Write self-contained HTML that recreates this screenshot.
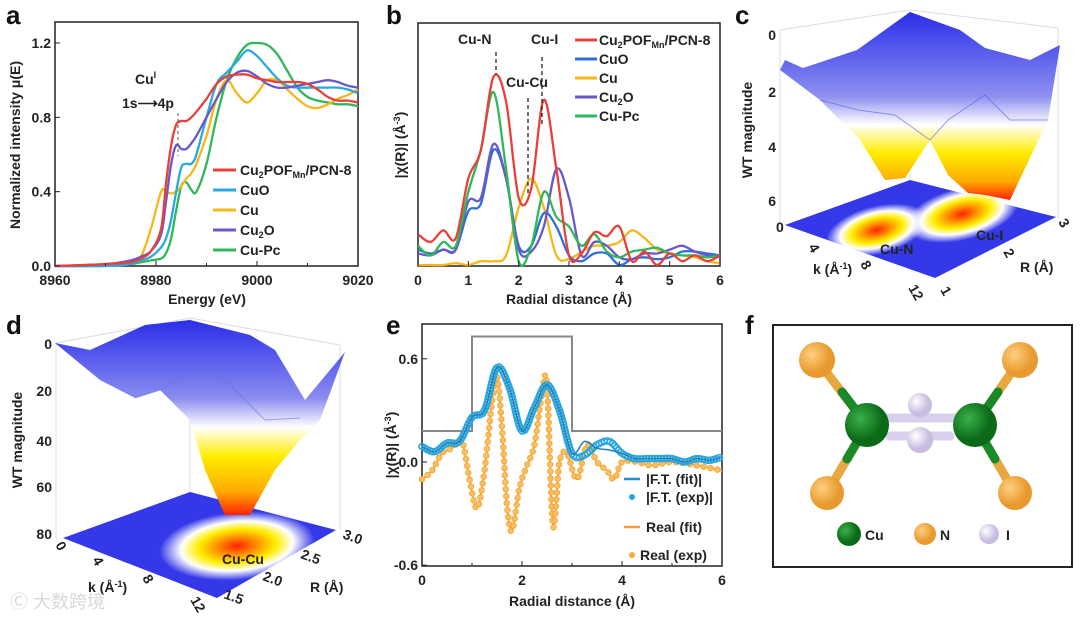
<!DOCTYPE html>
<html><head><meta charset="utf-8"><style>
body{margin:0;background:#fff;}
svg{display:block;font-family:"Liberation Sans",Arial,sans-serif;}
.t{font-weight:bold;font-size:14px;fill:#222;}
.L{font-weight:bold;font-size:26px;fill:#111;}
</style></head><body>
<svg id="s" width="1080" height="618" viewBox="0 0 1080 618">
<defs>
<linearGradient id="surfC" x1="0" y1="0" x2="0" y2="1"><stop offset="0" stop-color="#2a2ee8"/><stop offset="0.45" stop-color="#8e90f0"/><stop offset="0.6" stop-color="#ffffff"/><stop offset="0.75" stop-color="#ffee00"/><stop offset="0.9" stop-color="#ffaa00"/><stop offset="1" stop-color="#ff2200"/></linearGradient>
<linearGradient id="surfD" x1="0" y1="0" x2="0" y2="1"><stop offset="0" stop-color="#2a2ee8"/><stop offset="0.4" stop-color="#8a8cf0"/><stop offset="0.55" stop-color="#ffffff"/><stop offset="0.7" stop-color="#ffee00"/><stop offset="0.88" stop-color="#ffaa00"/><stop offset="1" stop-color="#ff2200"/></linearGradient>
<radialGradient id="hot"><stop offset="0" stop-color="#ff2000"/><stop offset="0.3" stop-color="#ffa000"/><stop offset="0.5" stop-color="#ffee00"/><stop offset="0.72" stop-color="#ffffff"/><stop offset="1" stop-color="#ffffff" stop-opacity="0"/></radialGradient>
<radialGradient id="gCu" cx="0.35" cy="0.35"><stop offset="0" stop-color="#3bb04a"/><stop offset="1" stop-color="#0a6a18"/></radialGradient>
<radialGradient id="gN" cx="0.35" cy="0.35"><stop offset="0" stop-color="#ffd080"/><stop offset="1" stop-color="#e89a30"/></radialGradient>
<radialGradient id="gI" cx="0.35" cy="0.35"><stop offset="0" stop-color="#ffffff"/><stop offset="1" stop-color="#c8bce0"/></radialGradient>
</defs>

<text class="L" x="6" y="24">a</text>
<text class="L" x="386" y="24">b</text>
<text class="L" x="735" y="24">c</text>
<text class="L" x="6" y="334">d</text>
<text class="L" x="386" y="334">e</text>
<text class="L" x="745" y="334">f</text>

<!-- PANEL A -->
<g id="pa">
<rect x="55" y="22" width="303" height="244" fill="none" stroke="#222" stroke-width="1.5"/>
<g id="pa-lines"></g>
<text class="t" x="20" y="145" transform="rotate(-90 20 145)" text-anchor="middle">Normalized intensity μ(E)</text>
<text class="t" x="207" y="304" text-anchor="middle">Energy (eV)</text>
<text class="t" x="135" y="84">Cu<tspan font-size="9" dy="-6">I</tspan></text>
<text class="t" x="122" y="108">1s⟶4p</text>
<line x1="178" y1="113" x2="178" y2="156" stroke="#555" stroke-dasharray="3,3"/>
<g id="pa-leg"></g>
</g>

<!-- PANEL B -->
<g>
<rect x="418" y="23" width="302" height="243" fill="none" stroke="#222" stroke-width="1.5"/>
<g id="pb-lines"></g>
<text class="t" x="405" y="145" transform="rotate(-90 405 145)" text-anchor="middle">|χ(R)| (Å<tspan font-size="9" dy="-5">-3</tspan><tspan dy="5">)</tspan></text>
<text class="t" x="569" y="304" text-anchor="middle">Radial distance (Å)</text>
<text class="t" x="458" y="44">Cu-N</text>
<text class="t" x="531" y="44">Cu-I</text>
<text class="t" x="506" y="87">Cu-Cu</text>
<line x1="496" y1="52" x2="496" y2="74" stroke="#222" stroke-width="1.3" stroke-dasharray="4,3"/>
<line x1="542" y1="57" x2="542" y2="127" stroke="#222" stroke-width="1.3" stroke-dasharray="4,3"/>
<line x1="528" y1="98" x2="528" y2="196" stroke="#222" stroke-width="1.3" stroke-dasharray="4,3"/>
<g id="pb-leg"></g>
</g>

<!-- PANEL C -->
<g>
<g stroke="#ddd" stroke-width="1" fill="none">
<line x1="780" y1="30" x2="780" y2="225"/><line x1="780" y1="30" x2="910" y2="10"/><line x1="910" y1="10" x2="1058" y2="28"/><line x1="1058" y1="28" x2="1058" y2="218"/><line x1="910" y1="10" x2="910" y2="180"/>
</g>
<path d="M785,225 L910,180 L1056,217 L935,278 Z" fill="#3438e8"/>
<ellipse cx="877" cy="230" rx="52" ry="24" fill="url(#hot)" transform="rotate(-14 877 230)"/>
<ellipse cx="962" cy="214" rx="58" ry="26" fill="url(#hot)" transform="rotate(-14 962 214)"/>
<path d="M780,70 L785,60 L803,68 L857,50 L910,12 L960,30 L985,48 L1030,60 L1060,45 L1048,120 L1010,200 L985,195 L968,193 L948,175 L930,140 L905,178 L885,180 L860,140 L820,100 Z" fill="url(#surfC)"/>
<path d="M820,100 L858,110 L895,115 L930,140 L948,120 L985,95 L1010,120 L1048,120" fill="none" stroke="#5a5ce8" stroke-width="1" opacity="0.6"/>
<text class="t" x="880" y="254" font-size="13">Cu-N</text>
<text class="t" x="976" y="240" font-size="13">Cu-I</text>
<g class="t" font-size="13" text-anchor="end">
<text x="776" y="40">0</text><text x="776" y="97">2</text><text x="776" y="152">4</text><text x="776" y="206">6</text>
</g>
<text class="t" x="752" y="130" transform="rotate(-90 752 130)" text-anchor="middle">WT magnitude</text>
<text class="t" x="813" y="274">k (Å<tspan font-size="9" dy="-5">-1</tspan><tspan dy="5">)</tspan></text>
<text class="t" x="1020" y="272">R (Å)</text>
<g class="t" font-size="12"><text x="776" y="232">0</text><text x="808" y="247" transform="rotate(60 808 247)">4</text><text x="860" y="264" transform="rotate(60 860 264)">8</text><text x="908" y="288" transform="rotate(60 908 288)">12</text>
<text x="940" y="290" transform="rotate(60 940 290)">1</text><text x="1003" y="252" transform="rotate(60 1003 252)">2</text><text x="1058" y="222" transform="rotate(60 1058 222)">3</text></g>
</g>

<!-- PANEL D -->
<g>
<g stroke="#ddd" stroke-width="1" fill="none">
<line x1="56" y1="343" x2="56" y2="538"/><line x1="56" y1="343" x2="190" y2="318"/><line x1="190" y1="318" x2="340" y2="345"/><line x1="340" y1="345" x2="340" y2="530"/><line x1="190" y1="318" x2="190" y2="492"/>
</g>
<path d="M63,538 L190,492 L336,530 L217,598 Z" fill="#3438e8"/>
<ellipse cx="237" cy="546" rx="78" ry="34" fill="url(#hot)" transform="rotate(-5 237 546)"/>
<path d="M55,343 L90,350 L145,325 L190,320 L250,335 L275,350 L305,400 L345,352 L320,420 L300,440 L275,470 L250,515 L225,515 L205,470 L190,420 L160,390 L135,398 L100,380 Z" fill="url(#surfD)"/>
<path d="M135,398 L160,390 L195,372 L210,370 L230,385 L265,420 L300,418" fill="none" stroke="#6d70ea" stroke-width="1" opacity="0.6"/>
<text class="t" x="222" y="564" font-size="13">Cu-Cu</text>
<g class="t" font-size="14" text-anchor="end">
<text x="52" y="349">0</text><text x="52" y="396">20</text><text x="52" y="446">40</text><text x="52" y="492">60</text><text x="52" y="539">80</text>
</g>
<text class="t" x="22" y="440" transform="rotate(-90 22 440)" text-anchor="middle">WT magnitude</text>
<text class="t" x="88" y="592">k (Å<tspan font-size="9" dy="-5">-1</tspan><tspan dy="5">)</tspan></text>
<text class="t" x="310" y="592">R (Å)</text>
<g class="t" font-size="12"><text x="55" y="545" transform="rotate(60 55 545)">0</text><text x="92" y="560" transform="rotate(60 92 560)">4</text><text x="142" y="578" transform="rotate(60 142 578)">8</text><text x="190" y="600" transform="rotate(60 190 600)">12</text>
<text x="223" y="598" transform="rotate(20 223 598)">1.5</text><text x="262" y="580" transform="rotate(20 262 580)">2.0</text><text x="300" y="558" transform="rotate(20 300 558)">2.5</text><text x="342" y="538" transform="rotate(20 342 538)">3.0</text></g>
<text x="10" y="608" font-size="18" fill="#d8d8d8" font-family="'Liberation Sans','Noto Sans CJK SC',sans-serif">Ⓒ 大数跨境</text>
</g>

<!-- PANEL E -->
<g>
<rect x="422" y="324" width="300" height="242" fill="none" stroke="#222" stroke-width="1.5"/>
<g id="pe-lines"></g>
<text class="t" x="396" y="445" transform="rotate(-90 396 445)" text-anchor="middle">|χ(R)| (Å<tspan font-size="9" dy="-5">-3</tspan><tspan dy="5">)</tspan></text>
<text class="t" x="572" y="606" text-anchor="middle">Radial distance (Å)</text>
<g class="t" font-size="13">
<line x1="624" y1="479" x2="640" y2="479" stroke="#2a8fc8" stroke-width="2.5"/><text x="646" y="484">|F.T. (fit)|</text>
<circle cx="632" cy="497" r="3" fill="#2aa6df"/><text x="646" y="502">|F.T. (exp)|</text>
<line x1="624" y1="527" x2="640" y2="527" stroke="#f5a040" stroke-width="2.5"/><text x="646" y="532">Real (fit)</text>
<circle cx="632" cy="555" r="3" fill="#f5b030"/><text x="640" y="560">Real (exp)</text>
</g>
</g>

<!-- PANEL F -->
<g>
<rect x="773" y="325" width="299" height="242" fill="none" stroke="#222" stroke-width="2"/>
<g stroke-width="9" stroke-linecap="round">
<line x1="817" y1="360" x2="867" y2="425" stroke="#e8a840"/><line x1="1020" y1="360" x2="975" y2="425" stroke="#e8a840"/>
<line x1="827" y1="493" x2="867" y2="425" stroke="#e8a840"/><line x1="1015" y1="493" x2="975" y2="425" stroke="#e8a840"/>
<line x1="842" y1="392" x2="867" y2="425" stroke="#1a8a28"/><line x1="998" y1="392" x2="975" y2="425" stroke="#1a8a28"/>
<line x1="847" y1="459" x2="867" y2="425" stroke="#1a8a28"/><line x1="995" y1="459" x2="975" y2="425" stroke="#1a8a28"/>
<line x1="885" y1="418" x2="955" y2="418" stroke="#d8d0ec"/><line x1="890" y1="436" x2="950" y2="436" stroke="#d8d0ec"/>
</g>
<circle cx="920" cy="405" r="12" fill="url(#gI)"/>
<circle cx="867" cy="425" r="22" fill="url(#gCu)"/>
<circle cx="975" cy="425" r="22" fill="url(#gCu)"/>
<circle cx="920" cy="440" r="13" fill="url(#gI)"/>
<circle cx="817" cy="360" r="18" fill="url(#gN)"/><circle cx="1020" cy="360" r="18" fill="url(#gN)"/>
<circle cx="827" cy="493" r="17" fill="url(#gN)"/><circle cx="1015" cy="493" r="17" fill="url(#gN)"/>
<circle cx="849" cy="534" r="12" fill="url(#gCu)"/><text class="t" x="865" y="540" font-size="16">Cu</text>
<circle cx="925" cy="534" r="11" fill="url(#gN)"/><text class="t" x="940" y="540" font-size="16">N</text>
<circle cx="989" cy="534" r="10" fill="url(#gI)"/><text class="t" x="1006" y="540" font-size="16">I</text>
</g>
</svg>
<script>
const energyA=[8960,8970,8975,8977,8979,8981,8982,8983,8984,8985,8986,8987,8988,8990,8992,8994,8996,8998,9000,9002,9004,9006,9008,9010,9012,9014,9016,9018,9020];
const aCu2POF=[0,0.01,0.02,0.04,0.08,0.2,0.45,0.65,0.76,0.78,0.78,0.8,0.83,0.9,0.98,1.02,1.03,1.03,1.01,1.0,0.99,0.99,0.99,0.98,0.95,0.91,0.89,0.89,0.88];
const aCuO=[0,0.0,0.01,0.03,0.05,0.1,0.15,0.25,0.4,0.53,0.55,0.55,0.6,0.8,0.98,1.04,1.1,1.16,1.13,1.07,1.01,0.97,0.96,0.96,0.96,0.96,0.96,0.95,0.93];
const aCu=[0,0.01,0.02,0.05,0.2,0.4,0.4,0.39,0.4,0.43,0.47,0.5,0.55,0.7,0.9,1.0,0.93,0.88,0.93,1.0,1.0,0.95,0.9,0.86,0.85,0.87,0.9,0.92,0.95];
const aCu2O=[0,0.01,0.03,0.05,0.08,0.17,0.35,0.55,0.65,0.63,0.63,0.66,0.7,0.8,0.9,0.99,1.04,1.05,1.02,0.98,0.96,0.96,0.97,0.98,0.99,1.0,0.99,0.97,0.96];
const aCuPc=[0,0,0.01,0.02,0.03,0.04,0.07,0.15,0.3,0.43,0.45,0.41,0.4,0.55,0.8,1.0,1.12,1.19,1.2,1.19,1.14,1.05,0.96,0.91,0.89,0.88,0.87,0.87,0.86];
const aTicksX=[8960,8980,9000,9020];
const aTicksY=[0.0,0.4,0.8,1.2];
const radialB=[0,0.25,0.5,0.75,1,1.25,1.5,1.75,2,2.25,2.5,2.75,3,3.25,3.5,3.75,4,4.25,4.5,4.75,5,5.25,5.5,5.75,6];
const bCu2POF=[0.16,0.12,0.18,0.14,0.45,0.6,0.98,0.85,0.35,0.4,0.86,0.5,0.05,0.06,0.17,0.15,0.2,0.02,0.07,0.0,0.06,0.02,0.05,0.02,0.05];
const bCuO=[0.08,0.06,0.08,0.08,0.28,0.32,0.6,0.45,0.1,0.1,0.27,0.2,0.05,0.02,0.06,0.06,0.0,0.03,0.04,0.03,0.04,0.07,0.07,0.06,0.05];
const bCu=[0,0,0,0.01,0.0,0.02,0.02,0.05,0.3,0.45,0.3,0.05,0.03,0.07,0.1,0.1,0.12,0.18,0.14,0.08,0.06,0.05,0.04,0.02,0.01];
const bCu2O=[0.06,0.05,0.08,0.08,0.33,0.35,0.63,0.45,0.08,0.07,0.2,0.5,0.35,0.05,0.12,0.1,0.04,0.03,0.06,0.06,0.08,0.1,0.07,0.05,0.04];
const bCuPc=[0.1,0.05,0.12,0.1,0.38,0.6,0.9,0.5,0.02,0.1,0.38,0.25,0.2,0.1,0.16,0.07,0.04,0.07,0.08,0.09,0.06,0.05,0.05,0.04,0.05];
const bTicksX=[0,1,2,3,4,5,6];
const radialE=[0,0.25,0.5,0.75,1,1.25,1.5,1.75,2,2.25,2.5,2.75,3,3.25,3.5,3.75,4,4.25,4.5,4.75,5,5.25,5.5,5.75,6];
const eFTexp=[0.09,0.06,0.11,0.12,0.26,0.3,0.55,0.43,0.18,0.32,0.45,0.3,0.05,0.04,0.1,0.12,0.05,0.02,0.02,0.02,0.02,0.0,0.02,0.01,0.03];
const eFTfit=[0.09,0.06,0.11,0.12,0.26,0.3,0.55,0.43,0.18,0.32,0.45,0.3,0.05,0.12,0.08,0.07,0.05,0.02,0.02,0.02,0.02,0.0,0.02,0.01,0.03];
const realR=[0,0.2,0.4,0.6,0.8,0.95,1.1,1.25,1.4,1.5,1.6,1.7,1.8,1.95,2.1,2.25,2.4,2.5,2.62,2.75,2.9,3.1,3.3,3.5,3.7,3.85,4.0,4.3,4.6,5,5.5,6];
const realV=[-0.1,-0.05,0.05,0.08,0.12,-0.1,-0.27,-0.05,0.35,0.5,0.2,-0.25,-0.4,-0.15,-0.02,0.1,0.4,0.45,-0.37,0.0,0.05,-0.1,0.1,0.0,-0.05,-0.1,0.0,0.0,-0.02,0.0,-0.02,-0.05];
const windowR=[0,1,1,3,3,6];
const windowV=[0.18,0.18,0.73,0.73,0.18,0.18];
const eTicksX=[0,2,4,6];
const eTicksY=[-0.6,0.0,0.6];

const NS='http://www.w3.org/2000/svg';
function mk(tag,attrs,parent){const e=document.createElementNS(NS,tag);for(const k in attrs)e.setAttribute(k,attrs[k]);parent.appendChild(e);return e;}
function smooth(pts){let d='M'+pts[0][0].toFixed(1)+','+pts[0][1].toFixed(1);
 for(let i=0;i<pts.length-1;i++){const p0=pts[i-1]||pts[i],p1=pts[i],p2=pts[i+1],p3=pts[i+2]||p2;
 const c1=[p1[0]+(p2[0]-p0[0])/6,p1[1]+(p2[1]-p0[1])/6],c2=[p2[0]-(p3[0]-p1[0])/6,p2[1]-(p3[1]-p1[1])/6];
 d+=' C'+c1[0].toFixed(1)+','+c1[1].toFixed(1)+' '+c2[0].toFixed(1)+','+c2[1].toFixed(1)+' '+p2[0].toFixed(1)+','+p2[1].toFixed(1);}
 return d;}

const xa=e=>55+(e-8960)/60*303, ya=v=>266-v/1.2*223;
const ga=document.getElementById('pa-lines');
const aSeries=[[aCuPc,'#2fb85a'],[aCu,'#f5b818'],[aCuO,'#2aa8e0'],[aCu2O,'#6a58c8'],[aCu2POF,'#e8403a']];
aSeries.forEach(([s,c])=>{const p=mk('path',{d:smooth(energyA.map((e,i)=>[xa(e),ya(s[i])])),fill:'none',stroke:c,'stroke-width':2.3},ga);

});
aTicksX.forEach(t=>{mk('line',{x1:xa(t),x2:xa(t),y1:266,y2:261,stroke:'#222'},ga);const tx=mk('text',{x:xa(t),y:285,'text-anchor':'middle',class:'t'},ga);tx.textContent=t;

});
[8970,8990,9010].forEach(t=>mk('line',{x1:xa(t),x2:xa(t),y1:266,y2:263,stroke:'#222'},ga));
aTicksY.forEach(t=>{mk('line',{x1:55,x2:60,y1:ya(t),y2:ya(t),stroke:'#222'},ga);const tx=mk('text',{x:51,y:ya(t)+5,'text-anchor':'end',class:'t'},ga);tx.textContent=t.toFixed(1);

});
const la=document.getElementById('pa-leg');
const aLeg=[['#e8403a','Cu<tspan font-size="9" dy="3">2</tspan><tspan dy="-3">POF</tspan><tspan font-size="9" dy="3">Mn</tspan><tspan dy="-3">/PCN-8</tspan>'],['#2aa8e0','CuO'],['#f5b818','Cu'],['#6a58c8','Cu<tspan font-size="9" dy="3">2</tspan><tspan dy="-3">O</tspan>'],['#2fb85a','Cu-Pc']];
aLeg.forEach(([c,t],i)=>{const y=170+i*20;mk('line',{x1:213,x2:236,y1:y,y2:y,stroke:c,'stroke-width':3},la);const tx=mk('text',{x:240,y:y+5,class:'t'},la);tx.innerHTML=t;

});

const xb=r=>418+r/6*302, yb=v=>265-v*192;
const gb=document.getElementById('pb-lines');
const bSeries=[[bCu,'#f5b818'],[bCuO,'#2f6fd6'],[bCu2O,'#6a58c8'],[bCuPc,'#2fb85a'],[bCu2POF,'#e8403a']];
bSeries.forEach(([s,c])=>{const p=mk('path',{d:smooth(radialB.map((r,i)=>[xb(r),yb(s[i])])),fill:'none',stroke:c,'stroke-width':2.3},gb);

});
bTicksX.forEach(t=>{mk('line',{x1:xb(t),x2:xb(t),y1:266,y2:261,stroke:'#222'},gb);const tx=mk('text',{x:xb(t),y:285,'text-anchor':'middle',class:'t'},gb);tx.textContent=t;

});
const lb=document.getElementById('pb-leg');
const bLeg=[['#e8403a','Cu<tspan font-size="9" dy="3">2</tspan><tspan dy="-3">POF</tspan><tspan font-size="9" dy="3">Mn</tspan><tspan dy="-3">/PCN-8</tspan>'],['#2f6fd6','CuO'],['#f5b818','Cu'],['#6a58c8','Cu<tspan font-size="9" dy="3">2</tspan><tspan dy="-3">O</tspan>'],['#2fb85a','Cu-Pc']];
bLeg.forEach(([c,t],i)=>{const y=40+i*19;mk('line',{x1:575,x2:597,y1:y,y2:y,stroke:c,'stroke-width':3},lb);const tx=mk('text',{x:599,y:y+5,class:'t'},lb);tx.innerHTML=t;

});

const xe=r=>422+r/6*300, ye=v=>462-v*172;
const ge=document.getElementById('pe-lines');
const win=mk('path',{d:'M'+windowR.map((r,i)=>xe(r)+','+ye(windowV[i])).join(' L'),fill:'none',stroke:'#888','stroke-width':2},ge);


const rf=mk('path',{d:smooth(realR.map((r,i)=>[xe(r),ye(realV[i])])),fill:'none',stroke:'#f5a040','stroke-width':1.8},ge);


const L=rf.getTotalLength();
for(let s=0;s<L;s+=7){const p=rf.getPointAtLength(s);const c=mk('circle',{cx:p.x,cy:p.y,r:2.8,fill:'#f8c060',stroke:'#f5a030','stroke-width':0.8},ge);

}
const fe=mk('path',{d:smooth(radialE.map((r,i)=>[xe(r),ye(eFTexp[i])])),fill:'none',stroke:'none'},ge);
const L2=fe.getTotalLength();
for(let s=0;s<L2;s+=3){const p=fe.getPointAtLength(s);const c=mk('circle',{cx:p.x,cy:p.y,r:3,fill:'none',stroke:'#2aa6df','stroke-width':1.6},ge);

}
const ff=mk('path',{d:smooth(radialE.map((r,i)=>[xe(r),ye(eFTfit[i])])),fill:'none',stroke:'#1f7fb8','stroke-width':1.5},ge);


eTicksX.forEach(t=>{mk('line',{x1:xe(t),x2:xe(t),y1:566,y2:561,stroke:'#222'},ge);const tx=mk('text',{x:xe(t),y:585,'text-anchor':'middle',class:'t'},ge);tx.textContent=t;

});
[1,3,5].forEach(t=>mk('line',{x1:xe(t),x2:xe(t),y1:566,y2:563,stroke:'#222'},ge));
eTicksY.forEach(t=>{mk('line',{x1:422,x2:427,y1:ye(t),y2:ye(t),stroke:'#222'},ge);const tx=mk('text',{x:418,y:ye(t)+5,'text-anchor':'end',class:'t'},ge);tx.textContent=t.toFixed(1);

});
</script>
</body></html>
